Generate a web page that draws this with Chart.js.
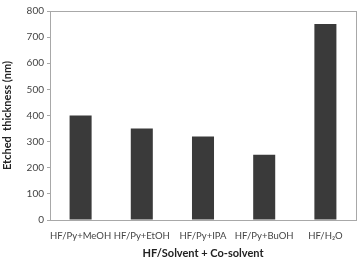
<!DOCTYPE html>
<html><head><meta charset="utf-8">
<script src="https://cdn.jsdelivr.net/npm/chart.js@4"></script>
<style>html,body{margin:0;padding:0;background:#fff}#wrap{width:359px;height:260px;position:relative}</style>
</head><body><div id="wrap"><canvas id="c"></canvas></div>
<script>
const categories = ["HF/Py+MeOH", "HF/Py+EtOH", "HF/Py+IPA", "HF/Py+BuOH", "HF/H\u2082O"];
const etchedThickness = [400, 350, 320, 250, 750];
const yTicks = [0, 100, 200, 300, 400, 500, 600, 700, 800];

const boxPlugin = {
  id: 'box',
  afterDraw(chart) {
    const a = chart.chartArea, ctx = chart.ctx;
    ctx.save();
    ctx.strokeStyle = '#a8a8a8';
    ctx.lineWidth = 1;
    ctx.strokeRect(Math.round(a.left) + 0.5, Math.round(a.top) + 0.5, Math.round(a.right - a.left), Math.round(a.bottom - a.top));
    ctx.restore();
  }
};

new Chart(document.getElementById('c'), {
  type: 'bar',
  data: { labels: categories, datasets: [{ data: etchedThickness, backgroundColor: '#3a3a3a', barPercentage: 0.36, categoryPercentage: 1.0 }] },
  options: {
    responsive: true, maintainAspectRatio: false, animation: false,
    layout: { padding: { top: 11, right: 3, left: 1, bottom: 0 } },
    plugins: { legend: { display: false }, tooltip: { enabled: false } },
    scales: {
      x: {
        grid: { display: false },
        border: { color: '#a8a8a8' },
        ticks: { color: '#444', font: { family: 'Lato', size: 9.5 }, padding: 2, maxRotation: 0, autoSkip: false },
        title: { display: true, text: 'HF/Solvent + Co-solvent', color: '#222', font: { family: 'Lato', size: 11, weight: 'bold' }, padding: { top: 8, bottom: 0 } },
        afterFit(s) { s.height = 40; }
      },
      y: {
        min: 0, max: 800,
        afterBuildTicks(s) { s.ticks = yTicks.map(v => ({ value: v })); },
        grid: { drawOnChartArea: false, tickLength: 3, color: '#a8a8a8' },
        border: { color: '#a8a8a8' },
        ticks: { color: '#444', font: { family: 'Lato', size: 10 }, padding: 3 },
        title: { display: true, text: 'Etched  thickness (nm)', color: '#222', font: { family: 'Lato', size: 11, weight: 'bold' }, padding: { top: 0, bottom: 4 } },
        afterFit(s) { s.width = 49; }
      }
    }
  },
  plugins: [boxPlugin]
});
</script></body></html>
